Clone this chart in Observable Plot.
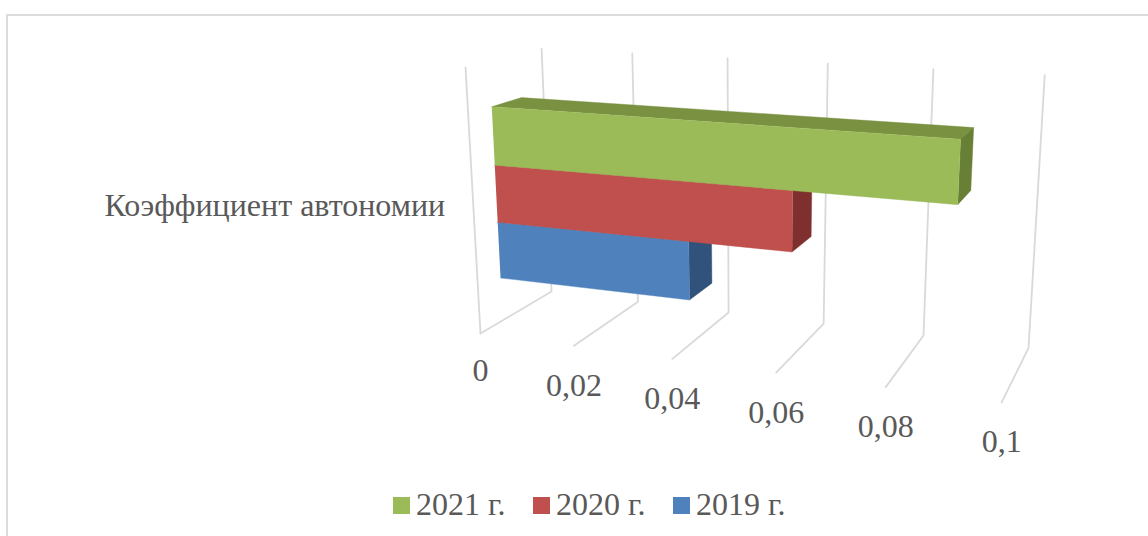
<!DOCTYPE html>
<html><head><meta charset="utf-8">
<script src="https://cdn.jsdelivr.net/npm/d3@7"></script>
<script src="https://cdn.jsdelivr.net/npm/@observablehq/plot@0.6"></script>
<style>
html,body{margin:0;padding:0;background:#fff;width:1148px;height:536px;overflow:hidden}
#frame{position:absolute;left:6px;top:14px;right:0;bottom:0;border-left:2px solid #dcdcdc;border-top:2px solid #dcdcdc}
#chart{position:absolute;left:0;top:0}
#legend{position:absolute;left:393px;top:486px;height:36px;display:flex;align-items:center;font:32px "Liberation Serif",serif;color:#595959;white-space:nowrap}
#legend i{display:inline-block;width:17px;height:17px;margin-right:6px;margin-top:3px}
#legend span{display:flex;align-items:center;margin-right:27.5px}
</style></head>
<body>
<div id="frame"></div>
<div id="chart"></div>
<div id="legend"></div>
<script>
const category = "Коэффициент автономии";
const years = ["2019 г.", "2020 г.", "2021 г."];
const values = [0.04, 0.06, 0.0895];
const frontColors = ["#4F81BD", "#C0504D", "#9BBB59"];
const sideColors = ["#31527A", "#7F2F2D", "#678036"];
const topColors = ["#3E6797", "#9A403D", "#7A9141"];
const tickValues = [0, 0.02, 0.04, 0.06, 0.08, 0.1];
const tickLabels = ["0", "0,02", "0,04", "0,06", "0,08", "0,1"];
const axisMax = 0.1;

// perspective camera of the 3-D chart: value (0..1 of axis), depth (0..1), height (0..1)
function project(v, d, h) {
  const u = v / axisMax;
  const w = 1 - 0.126 * u + 0.0996 * d - 0.053 * h;
  return {
    x: (480 + 395 * u + 125.9 * d - 39.6 * h) / w,
    y: (333 + 18.3 * u - 13 * d - 269.6 * h) / w
  };
}
const depthFront = 0.293, depthBack = 0.688;
const floorH = 0.171, stepH = 0.2207;

const W = 1148, H = 486;
const scales = {
  x: {type: "linear", domain: [0, W], range: [0, W]},
  y: {type: "linear", domain: [0, H], range: [0, H]}
};
const line = (pts, opts) => Plot.line(pts, {x: "x", y: "y", curve: "linear", ...opts});

const marks = [];
// gridlines: left wall edge for 0, floor + back wall for every tick
tickValues.forEach((t, i) => {
  const pts = [project(t, 0, 0), project(t, 1, 0), project(t, 1, 1)];
  marks.push(line(pts, {stroke: "#d9d9d9", strokeWidth: 1.8}));
  if (i === 0) marks.push(line([project(t, 0, 1), project(t, 0, 0)], {stroke: "#d9d9d9", strokeWidth: 1.8}));
});
// boxes, painted bottom to top
values.forEach((v, i) => {
  const h0 = floorH + i * stepH, h1 = h0 + stepH;
  const face = (pts, c) => marks.push(line(pts, {fill: c, stroke: c, strokeWidth: 0.4}));
  face([project(0, depthFront, h1), project(0, depthBack, h1), project(v, depthBack, h1), project(v, depthFront, h1)], topColors[i]);
  face([project(v, depthFront, h0), project(v, depthBack, h0), project(v, depthBack, h1), project(v, depthFront, h1)], sideColors[i]);
  face([project(0, depthFront, h0), project(v, depthFront, h0), project(v, depthFront, h1), project(0, depthFront, h1)], frontColors[i]);
});
const textStyle = {fontFamily: "Liberation Serif, serif", fontSize: 32, fill: "#595959"};
const tickRows = tickValues.map((t, i) => ({...project(t, 0, 0), label: tickLabels[i]}));
marks.push(Plot.text(tickRows.slice(1), {
  x: "x", y: "y", text: "label", textAnchor: "middle", lineAnchor: "bottom", dy: 50, ...textStyle
}));
marks.push(Plot.text(tickRows.slice(0, 1), {
  x: "x", y: "y", text: "label", textAnchor: "middle", lineAnchor: "bottom", dy: 47, ...textStyle
}));
marks.push(Plot.text([{...project(0, 0, 0.5), label: category}], {
  x: "x", y: "y", text: "label", textAnchor: "end", lineAnchor: "middle", dx: -28, dy: 2, ...textStyle
}));

const plot = Plot.plot({
  width: W, height: H, margin: 0,
  ...scales,
  axis: null,
  style: {background: "transparent"},
  marks
});
document.getElementById("chart").appendChild(plot);

const legend = document.getElementById("legend");
[2, 1, 0].forEach(i => {
  const s = document.createElement("span");
  const sw = document.createElement("i");
  sw.style.background = frontColors[i];
  s.appendChild(sw);
  s.appendChild(document.createTextNode(years[i]));
  legend.appendChild(s);
});
</script>
</body></html>
